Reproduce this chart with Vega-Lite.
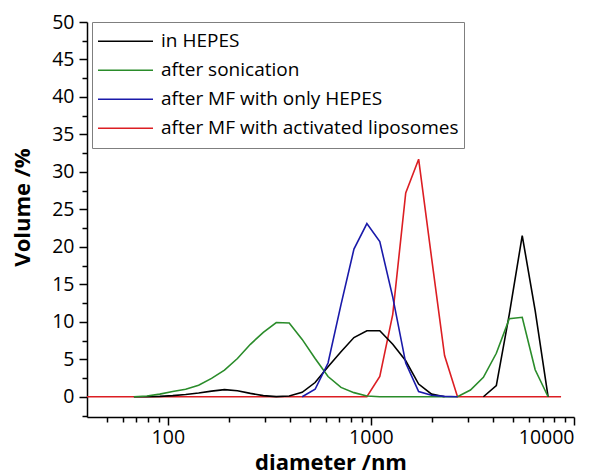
{
  "$schema": "https://vega.github.io/schema/vega-lite/v6.json",
  "autosize": {"type": "none"},
  "padding": {"left": 87, "top": 22, "right": 34, "bottom": 57},
  "width": 487,
  "height": 395,
  "config": {
    "view": {"stroke": null},
    "axis": {"grid": false, "domainColor": "black", "domainWidth": 1.5, "tickColor": "black", "tickWidth": 1.5, "labelColor": "black", "titleColor": "black", "labelFont": "Open Sans", "titleFont": "Open Sans", "labelFontSize": 19.5, "titleFontSize": 22, "titleFontWeight": "bold"}
  },
  "data": {"values": [
    {"d": 37.84, "v": 0, "s": "after MF with activated liposomes", "part": 1},
    {"d": 43.82, "v": 0, "s": "after MF with activated liposomes", "part": 1},
    {"d": 50.75, "v": 0, "s": "after MF with activated liposomes", "part": 1},
    {"d": 58.77, "v": 0, "s": "after MF with activated liposomes", "part": 1},
    {"d": 68.06, "v": 0, "s": "after MF with activated liposomes", "part": 1},
    {"d": 78.82, "v": 0, "s": "after MF with activated liposomes", "part": 1},
    {"d": 91.28, "v": 0, "s": "after MF with activated liposomes", "part": 1},
    {"d": 105.7, "v": 0, "s": "after MF with activated liposomes", "part": 1},
    {"d": 122.4, "v": 0, "s": "after MF with activated liposomes", "part": 1},
    {"d": 141.8, "v": 0, "s": "after MF with activated liposomes", "part": 1},
    {"d": 164.2, "v": 0, "s": "after MF with activated liposomes", "part": 1},
    {"d": 190.1, "v": 0, "s": "after MF with activated liposomes", "part": 1},
    {"d": 220.2, "v": 0, "s": "after MF with activated liposomes", "part": 1},
    {"d": 255.0, "v": 0, "s": "after MF with activated liposomes", "part": 1},
    {"d": 295.3, "v": 0, "s": "after MF with activated liposomes", "part": 1},
    {"d": 342.0, "v": 0, "s": "after MF with activated liposomes", "part": 1},
    {"d": 396.1, "v": 0, "s": "after MF with activated liposomes", "part": 1},
    {"d": 458.7, "v": 0, "s": "after MF with activated liposomes", "part": 1},
    {"d": 531.2, "v": 0, "s": "after MF with activated liposomes", "part": 1},
    {"d": 615.1, "v": 0, "s": "after MF with activated liposomes", "part": 1},
    {"d": 712.4, "v": 0, "s": "after MF with activated liposomes", "part": 1},
    {"d": 825.0, "v": 0, "s": "after MF with activated liposomes", "part": 1},
    {"d": 955.4, "v": 0, "s": "after MF with activated liposomes", "part": 1},
    {"d": 1106, "v": 2.7, "s": "after MF with activated liposomes", "part": 1},
    {"d": 1281, "v": 11.0, "s": "after MF with activated liposomes", "part": 1},
    {"d": 1484, "v": 27.2, "s": "after MF with activated liposomes", "part": 1},
    {"d": 1718, "v": 31.7, "s": "after MF with activated liposomes", "part": 1},
    {"d": 1990, "v": 18.5, "s": "after MF with activated liposomes", "part": 1},
    {"d": 2305, "v": 5.5, "s": "after MF with activated liposomes", "part": 1},
    {"d": 2669, "v": 0, "s": "after MF with activated liposomes", "part": 1},
    {"d": 3091, "v": 0, "s": "after MF with activated liposomes", "part": 1},
    {"d": 3580, "v": 0, "s": "after MF with activated liposomes", "part": 1},
    {"d": 4145, "v": 0, "s": "after MF with activated liposomes", "part": 1},
    {"d": 4801, "v": 0, "s": "after MF with activated liposomes", "part": 1},
    {"d": 5560, "v": 0, "s": "after MF with activated liposomes", "part": 1},
    {"d": 6439, "v": 0, "s": "after MF with activated liposomes", "part": 1},
    {"d": 7456, "v": 0, "s": "after MF with activated liposomes", "part": 1},
    {"d": 8635, "v": 0, "s": "after MF with activated liposomes", "part": 1},

    {"d": 68.06, "v": 0, "s": "in HEPES", "part": 1},
    {"d": 78.82, "v": 0, "s": "in HEPES", "part": 1},
    {"d": 91.28, "v": 0.05, "s": "in HEPES", "part": 1},
    {"d": 105.7, "v": 0.15, "s": "in HEPES", "part": 1},
    {"d": 122.4, "v": 0.3, "s": "in HEPES", "part": 1},
    {"d": 141.8, "v": 0.5, "s": "in HEPES", "part": 1},
    {"d": 164.2, "v": 0.75, "s": "in HEPES", "part": 1},
    {"d": 190.1, "v": 0.95, "s": "in HEPES", "part": 1},
    {"d": 220.2, "v": 0.8, "s": "in HEPES", "part": 1},
    {"d": 255.0, "v": 0.45, "s": "in HEPES", "part": 1},
    {"d": 295.3, "v": 0.15, "s": "in HEPES", "part": 1},
    {"d": 342.0, "v": 0.02, "s": "in HEPES", "part": 1},
    {"d": 396.1, "v": 0.1, "s": "in HEPES", "part": 1},
    {"d": 458.7, "v": 0.6, "s": "in HEPES", "part": 1},
    {"d": 531.2, "v": 1.9, "s": "in HEPES", "part": 1},
    {"d": 615.1, "v": 4.0, "s": "in HEPES", "part": 1},
    {"d": 712.4, "v": 6.0, "s": "in HEPES", "part": 1},
    {"d": 825.0, "v": 7.9, "s": "in HEPES", "part": 1},
    {"d": 955.4, "v": 8.8, "s": "in HEPES", "part": 1},
    {"d": 1106, "v": 8.8, "s": "in HEPES", "part": 1},
    {"d": 1281, "v": 7.0, "s": "in HEPES", "part": 1},
    {"d": 1484, "v": 4.8, "s": "in HEPES", "part": 1},
    {"d": 1718, "v": 1.7, "s": "in HEPES", "part": 1},
    {"d": 1990, "v": 0.35, "s": "in HEPES", "part": 1},
    {"d": 2305, "v": 0, "s": "in HEPES", "part": 1},
    {"d": 3580, "v": 0, "s": "in HEPES", "part": 2},
    {"d": 4145, "v": 1.5, "s": "in HEPES", "part": 2},
    {"d": 4801, "v": 11.0, "s": "in HEPES", "part": 2},
    {"d": 5560, "v": 21.5, "s": "in HEPES", "part": 2},
    {"d": 6439, "v": 11.5, "s": "in HEPES", "part": 2},
    {"d": 7456, "v": 0, "s": "in HEPES", "part": 2},

    {"d": 68.06, "v": 0, "s": "after sonication", "part": 1},
    {"d": 78.82, "v": 0.1, "s": "after sonication", "part": 1},
    {"d": 91.28, "v": 0.35, "s": "after sonication", "part": 1},
    {"d": 105.7, "v": 0.7, "s": "after sonication", "part": 1},
    {"d": 122.4, "v": 1.0, "s": "after sonication", "part": 1},
    {"d": 141.8, "v": 1.55, "s": "after sonication", "part": 1},
    {"d": 164.2, "v": 2.45, "s": "after sonication", "part": 1},
    {"d": 190.1, "v": 3.55, "s": "after sonication", "part": 1},
    {"d": 220.2, "v": 5.1, "s": "after sonication", "part": 1},
    {"d": 255.0, "v": 7.0, "s": "after sonication", "part": 1},
    {"d": 295.3, "v": 8.6, "s": "after sonication", "part": 1},
    {"d": 342.0, "v": 9.9, "s": "after sonication", "part": 1},
    {"d": 396.1, "v": 9.85, "s": "after sonication", "part": 1},
    {"d": 458.7, "v": 7.65, "s": "after sonication", "part": 1},
    {"d": 531.2, "v": 5.1, "s": "after sonication", "part": 1},
    {"d": 615.1, "v": 2.7, "s": "after sonication", "part": 1},
    {"d": 712.4, "v": 1.25, "s": "after sonication", "part": 1},
    {"d": 825.0, "v": 0.55, "s": "after sonication", "part": 1},
    {"d": 955.4, "v": 0.1, "s": "after sonication", "part": 1},
    {"d": 1106, "v": 0, "s": "after sonication", "part": 1},
    {"d": 1281, "v": 0, "s": "after sonication", "part": 1},
    {"d": 1484, "v": 0, "s": "after sonication", "part": 1},
    {"d": 1718, "v": 0, "s": "after sonication", "part": 1},
    {"d": 1990, "v": 0, "s": "after sonication", "part": 1},
    {"d": 2305, "v": 0, "s": "after sonication", "part": 1},
    {"d": 2669, "v": 0, "s": "after sonication", "part": 1},
    {"d": 3091, "v": 0.9, "s": "after sonication", "part": 1},
    {"d": 3580, "v": 2.6, "s": "after sonication", "part": 1},
    {"d": 4145, "v": 5.8, "s": "after sonication", "part": 1},
    {"d": 4801, "v": 10.4, "s": "after sonication", "part": 1},
    {"d": 5560, "v": 10.6, "s": "after sonication", "part": 1},
    {"d": 6439, "v": 3.6, "s": "after sonication", "part": 1},
    {"d": 7456, "v": 0, "s": "after sonication", "part": 1},

    {"d": 458.7, "v": 0, "s": "after MF with only HEPES", "part": 1},
    {"d": 531.2, "v": 1.0, "s": "after MF with only HEPES", "part": 1},
    {"d": 615.1, "v": 4.5, "s": "after MF with only HEPES", "part": 1},
    {"d": 712.4, "v": 12.3, "s": "after MF with only HEPES", "part": 1},
    {"d": 825.0, "v": 19.7, "s": "after MF with only HEPES", "part": 1},
    {"d": 955.4, "v": 23.1, "s": "after MF with only HEPES", "part": 1},
    {"d": 1106, "v": 20.7, "s": "after MF with only HEPES", "part": 1},
    {"d": 1281, "v": 13.3, "s": "after MF with only HEPES", "part": 1},
    {"d": 1484, "v": 4.5, "s": "after MF with only HEPES", "part": 1},
    {"d": 1718, "v": 0.7, "s": "after MF with only HEPES", "part": 1},
    {"d": 1990, "v": 0.2, "s": "after MF with only HEPES", "part": 1},
    {"d": 2305, "v": 0.05, "s": "after MF with only HEPES", "part": 1},
    {"d": 2669, "v": 0, "s": "after MF with only HEPES", "part": 1}
  ]},
  "layer": [
    {
      "mark": {"type": "line", "strokeWidth": 1.6, "clip": true},
      "encoding": {
        "x": {"field": "d", "type": "quantitative", "scale": {"type": "log", "domain": [40, 10000]},
              "axis": {"orient": "bottom", "values": [100, 1000, 10000], "format": "d", "tickSize": 8, "labelPadding": 3.5, "title": "diameter /nm", "titleY": 52, "titleBaseline": "alphabetic"}},
        "y": {"field": "v", "type": "quantitative", "scale": {"domain": [-2.7, 50], "nice": false, "zero": false},
              "axis": {"orient": "left", "values": [0, 5, 10, 15, 20, 25, 30, 35, 40, 45, 50], "tickSize": 8, "labelPadding": 5, "title": "Volume /%", "titleX": -58, "titleY": 185, "titleBaseline": "alphabetic", "titleAngle": -90, "titleAlign": "center"}},
        "color": {"field": "s", "type": "nominal",
                  "scale": {"domain": ["in HEPES", "after sonication", "after MF with only HEPES", "after MF with activated liposomes"], "range": ["#000000", "#2a8c2a", "#1a1aaa", "#dc1e23"]},
                  "legend": {"orient": "none", "legendX": 5, "legendY": 0, "title": null, "symbolType": "stroke", "symbolSize": 3025, "symbolStrokeWidth": 1.6, "clipHeight": 28.5, "rowPadding": 0, "labelOffset": 7, "padding": 5, "strokeColor": "#7f7f7f", "fillColor": "white", "labelFontSize": 19, "labelFont": "Open Sans", "labelColor": "black", "labelLimit": 0}},
        "detail": {"field": "part", "type": "nominal"}
      }
    },
    {
      "mark": {"type": "line", "strokeOpacity": 0, "clip": true},
      "encoding": {
        "x": {"field": "d", "type": "quantitative", "scale": {"type": "log", "domain": [40, 10000]},
              "axis": {"orient": "bottom", "values": [50, 60, 70, 80, 90, 200, 300, 400, 500, 600, 700, 800, 900, 2000, 3000, 4000, 5000, 6000, 7000, 8000, 9000], "labels": false, "domain": false, "tickSize": 5, "title": null}},
        "y": {"field": "v", "type": "quantitative", "scale": {"domain": [-2.7, 50], "nice": false, "zero": false},
              "axis": {"orient": "left", "values": [-2.5, 2.5, 7.5, 12.5, 17.5, 22.5, 27.5, 32.5, 37.5, 42.5, 47.5], "labels": false, "domain": false, "tickSize": 5, "title": null}},
        "detail": {"field": "s", "type": "nominal"}
      }
    }
  ],
  "resolve": {"axis": {"x": "independent", "y": "independent"}}
}
